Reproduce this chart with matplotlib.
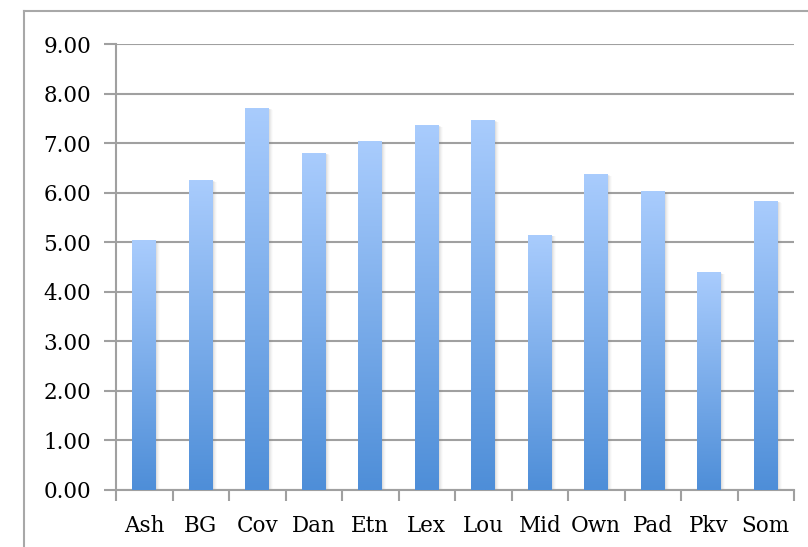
import numpy as np
import matplotlib
matplotlib.use("Agg")
import matplotlib.pyplot as plt
from matplotlib.colors import LinearSegmentedColormap
from matplotlib.patches import Rectangle
from matplotlib.lines import Line2D

categories = ["Ash", "BG", "Cov", "Dan", "Etn", "Lex", "Lou", "Mid", "Own", "Pad", "Pkv", "Som"]
values = [5.04, 6.24, 7.70, 6.79, 7.03, 7.35, 7.45, 5.14, 6.36, 6.02, 4.38, 5.82]
yticks = [0, 1, 2, 3, 4, 5, 6, 7, 8, 9]

plt.rcParams['font.family'] = ['DejaVu Serif']

W, H = 808, 547
fig = plt.figure(figsize=(W/100, H/100), dpi=100)
ax = fig.add_axes([116/W, 1-490/H, (794-116)/W, (490-44)/H])

n = len(categories)
ax.set_xlim(0, n)
ax.set_ylim(0, 9)

cmap = LinearSegmentedColormap.from_list("bar", ["#4E8ED8", "#A9CCFD"])
grad = np.linspace(0, 1, 256).reshape(-1, 1)
bw = 0.42
xpx = n / (794-116)
ypx = 9 / (490-44)
for i, v in enumerate(values):
    x0 = i + 0.5 - bw/2
    # soft shadow
    for k, a in zip([1, 2, 3, 4], [0.10, 0.07, 0.05, 0.03]):
        ax.add_patch(Rectangle((x0 + k*xpx, 0), bw, v - k*ypx*0.3, facecolor="#808080",
                               edgecolor="none", alpha=a, zorder=2))
    ax.imshow(grad, extent=(x0, x0+bw, 0, v), origin="lower", cmap=cmap,
              aspect="auto", zorder=3, interpolation="bilinear")
ax.set_xlim(0, n)
ax.set_ylim(0, 9)

ax.set_yticks(yticks)
ax.set_yticklabels([f"{t:.2f}" for t in yticks])
ax.yaxis.grid(True, color="#A0A0A0", linewidth=1.5)
ax.set_axisbelow(True)

ax.set_xticks(np.arange(n) + 0.5)
ax.set_xticklabels(categories)
ax.set_xticks(np.arange(n+1), minor=True)
ax.tick_params(axis="x", which="major", length=0, pad=18, labelsize=15.5)
ax.tick_params(axis="x", which="minor", length=8, width=1.5, color="#A0A0A0", direction="out")
ax.tick_params(axis="y", length=9, width=1.5, color="#A0A0A0", pad=9, labelsize=15.5)

for s in ["top", "right"]:
    ax.spines[s].set_visible(False)
for s in ["left", "bottom"]:
    ax.spines[s].set_color("#A0A0A0")
    ax.spines[s].set_linewidth(1.5)

# outer frame (partially cropped)
fig.add_artist(Line2D([23.5/W, 23.5/W], [0, 1-10.5/H], color="#A8A8A8", linewidth=1.5,
                      transform=fig.transFigure))
fig.add_artist(Line2D([23.5/W, 1], [1-10.5/H, 1-10.5/H], color="#A8A8A8", linewidth=1.5,
                      transform=fig.transFigure))

fig.savefig("out.png", dpi=100, facecolor="white")
